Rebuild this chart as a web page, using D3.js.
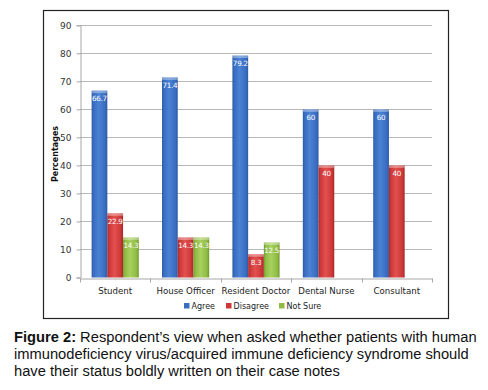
<!DOCTYPE html>
<html><head><meta charset="utf-8">
<script src="https://cdn.jsdelivr.net/npm/d3@7"></script>
<style>body{margin:0;background:#fff}svg{display:block}</style>
</head><body>
<script>
const categories = ["Student","House Officer","Resident Doctor","Dental Nurse","Consultant"];
const series = ["Agree","Disagree","Not Sure"];
const agree = [66.7, 71.4, 79.2, 60, 60];
const disagree = [22.9, 14.3, 8.3, 40, 40];
const notSure = [14.3, 14.3, 12.5, null, null];
const yTicks = [0,10,20,30,40,50,60,70,80,90];
const captionLines = [
  ["Figure 2:", " Respondent\u2019s view when asked whether patients with human"],
  ["", "immunodeficiency virus/acquired immune deficiency syndrome should"],
  ["", "have their status boldly written on their case notes"]
];
const values = [agree, disagree, notSure];
const colors = {
  "Agree": ["#2b5aa6","#4a82d4","#3a6cc0"],
  "Disagree": ["#a82828","#e25050","#cc3838"],
  "Not Sure": ["#6f9a2c","#a8d05e","#8fbb45"]
};

const W = 488, H = 390;
const svg = d3.select("body").append("svg").attr("width", W).attr("height", H);
const defs = svg.append("defs");
series.forEach((s,i) => {
  const g = defs.append("linearGradient").attr("id","g"+i).attr("x1","0").attr("x2","1").attr("y1","0").attr("y2","0");
  const c = colors[s];
  g.append("stop").attr("offset","0").attr("stop-color",c[0]);
  g.append("stop").attr("offset","0.12").attr("stop-color",c[2]);
  g.append("stop").attr("offset","0.45").attr("stop-color",c[1]);
  g.append("stop").attr("offset","0.85").attr("stop-color",c[2]);
  g.append("stop").attr("offset","1").attr("stop-color",c[0]);
});

// chart frame
svg.append("rect").attr("x",43.5).attr("y",10.5).attr("width",405).attr("height",308)
  .attr("fill","#fff").attr("stroke","#222").attr("stroke-width",1.2);

const x = d3.scaleBand().domain(categories).range([80, 432]);
const xs = d3.scaleBand().domain(series).range([x.bandwidth()*0.165, x.bandwidth()*0.835]);
const y = d3.scaleLinear().domain([0, 90]).range([277.5, 25.3]);

// gridlines
svg.append("g").selectAll("line").data(yTicks.filter(d=>d>0)).join("line")
  .attr("x1",80).attr("x2",432).attr("y1",d=>Math.round(y(d))+0.5).attr("y2",d=>Math.round(y(d))+0.5)
  .attr("stroke","#b8b8b8").attr("stroke-width",1);

// y axis
const yAxis = d3.axisLeft(y).tickValues(yTicks).tickSize(4).tickPadding(5);
const ya = svg.append("g").attr("transform","translate(80.5,0)").call(yAxis);
ya.select(".domain").attr("stroke","#a8a8a8");
ya.selectAll(".tick line").attr("stroke","#a8a8a8");
ya.selectAll(".tick text").attr("font-family","Verdana, DejaVu Sans, sans-serif").attr("font-size",9).attr("fill","#333");

// x axis
const xa = svg.append("g").attr("transform",`translate(0,${Math.round(y(0))+0.5})`)
  .call(d3.axisBottom(x).tickSize(0).tickPadding(9));
xa.select(".domain").attr("stroke","#a8a8a8");
xa.selectAll(".tick text").attr("font-family","Verdana, DejaVu Sans, sans-serif").attr("font-size",8.6).attr("fill","#222");
// category boundary ticks
xa.append("g").selectAll("line").data(categories.map(c=>x(c)).concat([x.range()[1]])).join("line")
  .attr("x1",d=>Math.round(d)+0.5).attr("x2",d=>Math.round(d)+0.5).attr("y1",0).attr("y2",4)
  .attr("stroke","#a8a8a8");

// bars
const bars = [];
series.forEach((s,si) => categories.forEach((c,ci) => {
  const v = values[si][ci];
  if (v !== null) bars.push({s, si, c, v});
}));
const bg = svg.append("g");
bg.selectAll("rect.bar").data(bars).join("rect").attr("class","bar")
  .attr("x",d=>x(d.c)+xs(d.s)).attr("width",xs.bandwidth())
  .attr("y",d=>y(d.v)).attr("height",d=>y(0)-y(d.v))
  .attr("fill",d=>`url(#g${d.si})`);
bg.selectAll("rect.cap").data(bars).join("rect").attr("class","cap")
  .attr("x",d=>x(d.c)+xs(d.s)).attr("width",xs.bandwidth())
  .attr("y",d=>y(d.v)).attr("height",2.5)
  .attr("fill","#fff").attr("opacity",0.35);
bg.selectAll("text").data(bars).join("text")
  .attr("x",d=>x(d.c)+xs(d.s)+xs.bandwidth()/2).attr("y",d=>y(d.v)+10.5)
  .attr("text-anchor","middle").attr("font-family","Verdana, DejaVu Sans, sans-serif")
  .attr("font-size",7.2).attr("letter-spacing",-0.3).attr("fill","#fff").text(d=>d.v);

// y label
svg.append("text").attr("transform","translate(58,154) rotate(-90)").attr("text-anchor","middle")
  .attr("font-family","Verdana, DejaVu Sans, sans-serif").attr("font-size",8).attr("font-weight","bold")
  .attr("fill","#111").text("Percentages");

// legend
const lg = svg.append("g").attr("font-family","Verdana, DejaVu Sans, sans-serif").attr("font-size",8);
const lx = [184, 226, 279];
series.forEach((s,i) => {
  lg.append("rect").attr("x",lx[i]).attr("y",303).attr("width",5.5).attr("height",5.5).attr("fill",colors[s][2]);
  lg.append("text").attr("x",lx[i]+7.5).attr("y",309).attr("fill","#222").text(s);
});

// caption
const cap = svg.append("g").attr("font-family","Liberation Sans, Arial, sans-serif").attr("font-size",15).attr("fill","#111");
const capTexts = captionLines.map((l,i) => {
  const t = cap.append("text").attr("x",14).attr("y",342 + i*17);
  if (l[0]) t.append("tspan").attr("font-weight","bold").text(l[0]);
  t.append("tspan").text(l[1]);
  return t;
});
// fit first line to the reference width
const w0 = capTexts[0].node().getComputedTextLength();
const fs = Math.min(15, 15 * 463 / w0);
cap.attr("font-size", fs);
</script>
</body></html>
